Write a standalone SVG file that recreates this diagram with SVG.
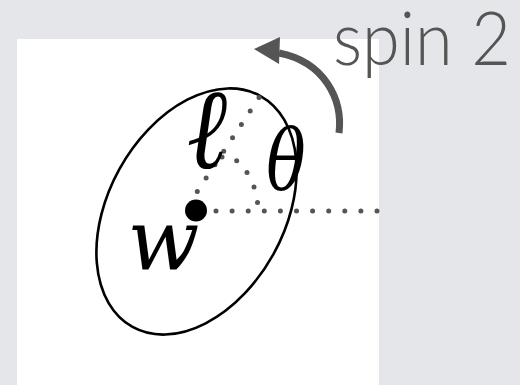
<svg xmlns="http://www.w3.org/2000/svg" width="520" height="385" viewBox="0 0 520 385">
<style>
.math{font-family:'DejaVu Serif',serif;font-style:italic;font-weight:400;font-size:84px;fill:#000;text-anchor:middle}
.dots{fill:none;stroke:#555;stroke-width:5;stroke-linecap:round}
.dot{fill:#555}
.label{font-family:Lato,'Open Sans','Liberation Sans',sans-serif;font-weight:300;font-size:74px;fill:#555}
</style>
<rect x="0" y="0" width="520" height="385" fill="#e5e6ea"/>
<rect x="17" y="39" width="362" height="346" fill="#ffffff"/>
<g id="ellipse">
<ellipse cx="196.5" cy="211.5" rx="88" ry="132" transform="rotate(29 196.5 211.5)" fill="none" stroke="#000" stroke-width="2.6"/>
</g>
<g id="connectors">
<path class="dots" d="M216 211 H377.5" stroke-dasharray="0 16.1"/>
<path class="dots" d="M197.3 191.5 L259.1 97.4" stroke-dasharray="0 16.06"/>
<circle class="dot" cx="222" cy="157" r="2.5"/>
<circle class="dot" cx="236.7" cy="160.7" r="2.5"/>
<circle class="dot" cx="247" cy="172.5" r="2.5"/>
<circle class="dot" cx="254" cy="187" r="2.5"/>
<circle class="dot" cx="257.5" cy="202.5" r="2.5"/>
</g>
<g id="center">
<circle cx="196" cy="210.5" r="11" fill="#000"/>
</g>
<g id="w"><text class="math" x="163.5" y="269">w</text></g>
<g id="ell"><text class="math" x="0" y="0" style="font-size:114px" transform="translate(207 168) scale(0.85 1)">ℓ</text></g>
<g id="theta"><text class="math" x="0" y="0" transform="translate(286 189) scale(0.78 1)">θ</text></g>
<g id="spin">
<path d="M339 133 C343 100 325 62 279 53" fill="none" stroke="#555" stroke-width="7"/>
<polygon points="254,49 280,37 279,64" fill="#555"/>
<text class="label" x="333" y="65" textLength="178" lengthAdjust="spacingAndGlyphs">spin 2</text>
</g>
</svg>
